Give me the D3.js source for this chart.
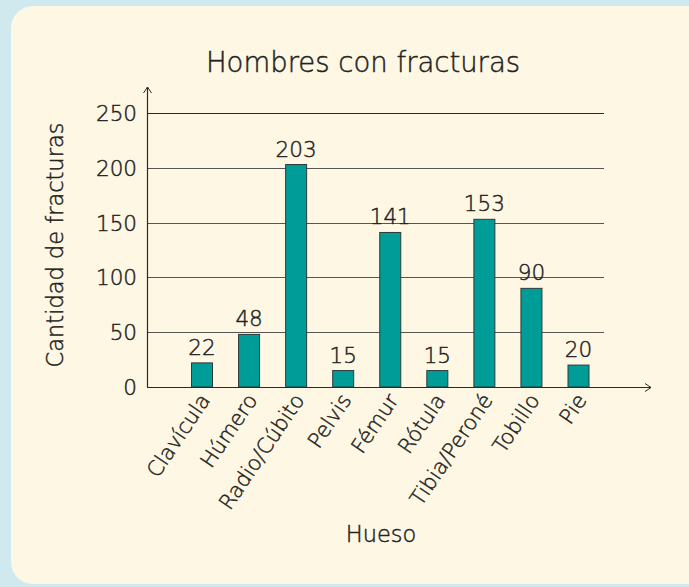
<!DOCTYPE html>
<html>
<head>
<meta charset="utf-8">
<script src="https://cdn.jsdelivr.net/npm/d3@7/dist/d3.min.js"></script>
<style>
  html, body { margin: 0; padding: 0; background: #cfe9ee; }
  svg { display: block; font-family: "DejaVu Sans", "Liberation Sans", Arial, sans-serif; font-weight: 200; }
  svg text { fill: #222; stroke: #222; stroke-width: 0.45px; }
</style>
</head>
<body>
<svg id="chart" width="689" height="587"></svg>
<script>
// Fractures in men, by bone
const bones = ["Clavícula", "Húmero", "Radio/Cúbito", "Pelvis", "Fémur", "Rótula", "Tibia/Peroné", "Tobillo", "Pie"];
const fractures = [22, 48, 203, 15, 141, 15, 153, 90, 20];
const yTicks = [0, 50, 100, 150, 200, 250];

const title = "Hombres con fracturas";
const xTitle = "Hueso";
const yTitle = "Cantidad de fracturas";

const svg = d3.select("#chart");

// cream card
svg.append("rect")
  .attr("x", 11).attr("y", 6)
  .attr("width", 720).attr("height", 578)
  .attr("rx", 22).attr("ry", 22)
  .attr("fill", "#fef7e3");

const x0 = 147, x1 = 604, yBase = 387, yTop = 113;

const y = d3.scaleLinear().domain([0, 250]).range([yBase, yTop]);
const x = d3.scalePoint().domain(bones).range([202, 578.5]);
const barW = 21;

// horizontal grid
svg.append("g").selectAll("line")
  .data(yTicks.filter(d => d > 0))
  .join("line")
  .attr("x1", x0).attr("x2", x1)
  .attr("y1", d => Math.round(y(d)) + 0.5).attr("y2", d => Math.round(y(d)) + 0.5)
  .attr("stroke", d => d === 250 ? "#2a2a2a" : "#555")
  .attr("stroke-width", 1.2);

// y tick labels
svg.append("g").selectAll("text")
  .data(yTicks)
  .join("text")
  .attr("x", 137)
  .attr("y", d => y(d) + 8)
  .attr("text-anchor", "end")
  .attr("font-size", 21.5)
  .text(d => d);

// bars
svg.append("g").selectAll("rect")
  .data(fractures)
  .join("rect")
  .attr("x", (d, i) => x(bones[i]) - barW / 2)
  .attr("y", d => y(d))
  .attr("width", barW)
  .attr("height", d => yBase - y(d))
  .attr("fill", "#009c98")
  .attr("stroke", "#2f3a3a")
  .attr("stroke-width", 1);

// value labels
svg.append("g").selectAll("text")
  .data(fractures)
  .join("text")
  .attr("x", (d, i) => x(bones[i]))
  .attr("y", d => y(d) - 8)
  .attr("text-anchor", "middle")
  .attr("font-size", 21.5)
  .text(d => d);

// axes with arrowheads
const axisColor = "#2a2a2a";
svg.append("line")
  .attr("x1", x0 + 0.5).attr("x2", x0 + 0.5)
  .attr("y1", yBase).attr("y2", 87)
  .attr("stroke", axisColor).attr("stroke-width", 1.2);
svg.append("path")
  .attr("d", `M${x0 - 3.5},${93} L${x0 + 0.5},${87} L${x0 + 4.5},${93}`)
  .attr("fill", "none").attr("stroke", axisColor).attr("stroke-width", 1);
svg.append("line")
  .attr("x1", x0).attr("x2", 651)
  .attr("y1", yBase + 0.5).attr("y2", yBase + 0.5)
  .attr("stroke", axisColor).attr("stroke-width", 1.2);
svg.append("path")
  .attr("d", `M${645},${yBase - 3.5} L${651},${yBase + 0.5} L${645},${yBase + 4.5}`)
  .attr("fill", "none").attr("stroke", axisColor).attr("stroke-width", 1);

// category labels, rotated
svg.append("g").selectAll("text")
  .data(bones)
  .join("text")
  .attr("transform", d => `translate(${x(d) + 9},${yBase + 13}) rotate(-56)`)
  .attr("text-anchor", "end")
  .attr("font-size", 21)
  .text(d => d);

// titles
svg.append("text")
  .attr("x", 363).attr("y", 72)
  .attr("text-anchor", "middle")
  .attr("font-size", 27.5)
  .text(title);

svg.append("text")
  .attr("x", 381).attr("y", 542)
  .attr("text-anchor", "middle")
  .attr("font-size", 22.5)
  .text(xTitle);

svg.append("text")
  .attr("transform", "translate(63,245) rotate(-90)")
  .attr("text-anchor", "middle")
  .attr("font-size", 22.5)
  .text(yTitle);
</script>
</body>
</html>
